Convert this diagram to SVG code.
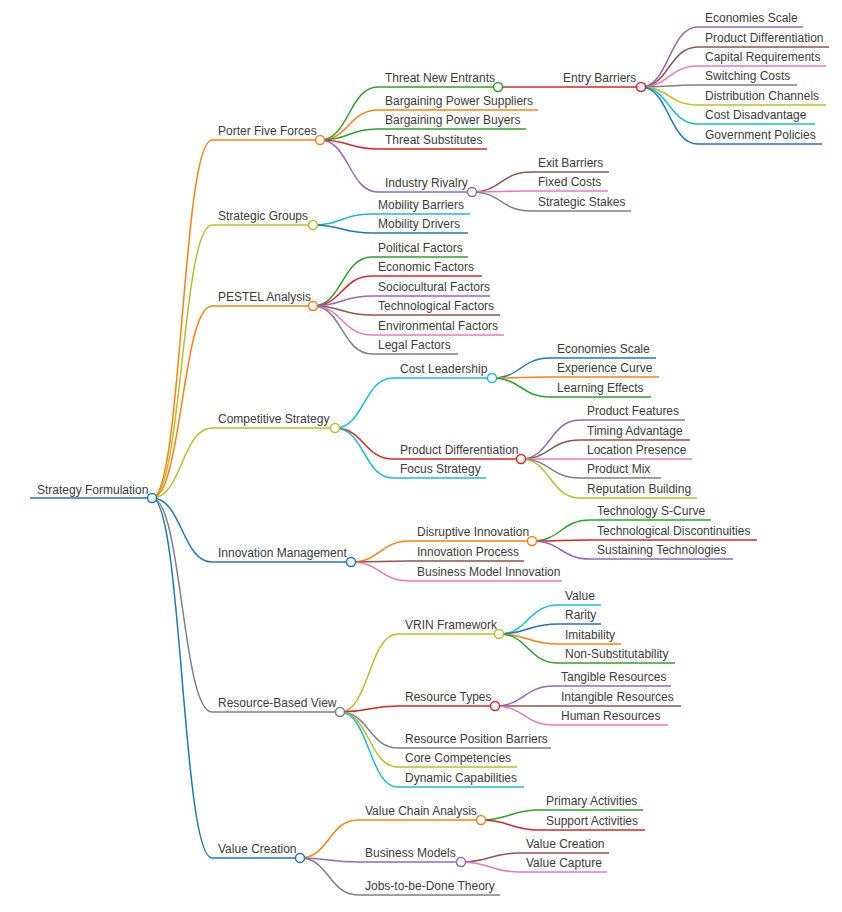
<svg xmlns="http://www.w3.org/2000/svg" width="842" height="912" viewBox="0 0 842 912">
<style>
text{font-family:"Liberation Sans",Arial,sans-serif;font-size:12px;fill:#3a3a3a}
.l{fill:none;stroke-width:1.5}
.k{fill:none;stroke-width:1.5}
circle{fill:#fff;stroke-width:1.5}
.b{stroke:#1f77b4}.o{stroke:#ff7f0e}.g{stroke:#2ca02c}.r{stroke:#d62728}.p{stroke:#9467bd}.n{stroke:#8c564b}.i{stroke:#e377c2}.y{stroke:#7f7f7f}.v{stroke:#bcbd22}.c{stroke:#17becf}
</style>
<rect width="842" height="912" fill="#fff"/>
<g id="connectors">
<path class="k o" d="M152 498C182 498 182 140 212 140"/>
<path class="k v" d="M152 498C182 498 182 225 212 225"/>
<path class="k o" d="M152 498C182 498 182 306 212 306"/>
<path class="k v" d="M152 498C182 498 182 428 212 428"/>
<path class="k b" d="M152 498C182 498 182 562 212 562"/>
<path class="k y" d="M152 498C182 498 182 712 212 712"/>
<path class="k b" d="M152 498C182 498 182 858 212 858"/>
<path class="k g" d="M320 140C349 140 349 87 378 87"/>
<path class="k o" d="M320 140C349 140 349 110 378 110"/>
<path class="k g" d="M320 140C349 140 349 129 378 129"/>
<path class="k r" d="M320 140C349 140 349 149 378 149"/>
<path class="k p" d="M320 140C349 140 349 192 378 192"/>
<path class="k r" d="M498 87H556"/>
<path class="k p" d="M641 87C669 87 669 27 698 27"/>
<path class="k n" d="M641 87C669 87 669 47 698 47"/>
<path class="k i" d="M641 87C669 87 669 66 698 66"/>
<path class="k y" d="M641 87C669 87 669 85 698 85"/>
<path class="k v" d="M641 87C669 87 669 105 698 105"/>
<path class="k c" d="M641 87C669 87 669 124 698 124"/>
<path class="k b" d="M641 87C669 87 669 144 698 144"/>
<path class="k n" d="M472 192C501 192 501 172 531 172"/>
<path class="k i" d="M472 192C501 192 501 191 531 191"/>
<path class="k y" d="M472 192C501 192 501 211 531 211"/>
<path class="k c" d="M313 225C342 225 342 214 372 214"/>
<path class="k b" d="M313 225C342 225 342 233 372 233"/>
<path class="k g" d="M313 306C342 306 342 257 372 257"/>
<path class="k r" d="M313 306C342 306 342 276 372 276"/>
<path class="k p" d="M313 306C342 306 342 296 372 296"/>
<path class="k n" d="M313 306C342 306 342 315 372 315"/>
<path class="k i" d="M313 306C342 306 342 335 372 335"/>
<path class="k y" d="M313 306C342 306 342 354 372 354"/>
<path class="k c" d="M335 428C364 428 364 378 393 378"/>
<path class="k r" d="M335 428C364 428 364 459 393 459"/>
<path class="k c" d="M335 428C364 428 364 478 393 478"/>
<path class="k b" d="M492 378C521 378 521 358 550 358"/>
<path class="k o" d="M492 378C521 378 521 377 550 377"/>
<path class="k g" d="M492 378C521 378 521 397 550 397"/>
<path class="k p" d="M521 459C550 459 550 420 580 420"/>
<path class="k n" d="M521 459C550 459 550 440 580 440"/>
<path class="k i" d="M521 459C550 459 550 459 580 459"/>
<path class="k y" d="M521 459C550 459 550 478 580 478"/>
<path class="k v" d="M521 459C550 459 550 498 580 498"/>
<path class="k o" d="M351 562C380 562 380 541 410 541"/>
<path class="k n" d="M351 562C380 562 380 561 410 561"/>
<path class="k i" d="M351 562C380 562 380 581 410 581"/>
<path class="k g" d="M532 541C561 541 561 520 590 520"/>
<path class="k r" d="M532 541C561 541 561 540 590 540"/>
<path class="k p" d="M532 541C561 541 561 559 590 559"/>
<path class="k v" d="M340 712C369 712 369 634 398 634"/>
<path class="k r" d="M340 712C369 712 369 706 398 706"/>
<path class="k y" d="M340 712C369 712 369 748 398 748"/>
<path class="k v" d="M340 712C369 712 369 767 398 767"/>
<path class="k c" d="M340 712C369 712 369 787 398 787"/>
<path class="k c" d="M499 634C528 634 528 605 558 605"/>
<path class="k b" d="M499 634C528 634 528 624 558 624"/>
<path class="k o" d="M499 634C528 634 528 644 558 644"/>
<path class="k g" d="M499 634C528 634 528 663 558 663"/>
<path class="k p" d="M495 706C524 706 524 686 554 686"/>
<path class="k n" d="M495 706C524 706 524 706 554 706"/>
<path class="k i" d="M495 706C524 706 524 725 554 725"/>
<path class="k o" d="M300 858C329 858 329 820 358 820"/>
<path class="k p" d="M300 858C329 858 329 862 358 862"/>
<path class="k y" d="M300 858C329 858 329 895 358 895"/>
<path class="k g" d="M481 820C510 820 510 810 539 810"/>
<path class="k r" d="M481 820C510 820 510 830 539 830"/>
<path class="k n" d="M461 862C490 862 490 853 519 853"/>
<path class="k i" d="M461 862C490 862 490 872 519 872"/>
</g>
<g id="root"><path class="l b" stroke-width="2" d="M30 498H152"/><text x="37" y="494">Strategy Formulation</text><circle class="b" cx="152" cy="498" r="4.5"/></g>
<g id="porter"><path class="l o" d="M212 140H320"/><text x="218" y="135">Porter Five Forces</text><circle class="o" cx="320" cy="140" r="4.5"/></g>
<g id="tne"><path class="l g" d="M378 87H498"/><text x="385" y="82">Threat New Entrants</text><circle class="g" cx="498" cy="87" r="4.5"/></g>
<g id="bps"><path class="l o" d="M378 110H538"/><text x="385" y="105">Bargaining Power Suppliers</text></g>
<g id="bpb"><path class="l g" d="M378 129H526"/><text x="385" y="124">Bargaining Power Buyers</text></g>
<g id="ts"><path class="l r" d="M378 149H487"/><text x="385" y="144">Threat Substitutes</text></g>
<g id="ir"><path class="l p" d="M378 192H472"/><text x="385" y="187">Industry Rivalry</text><circle class="p" cx="472" cy="192" r="4.5"/></g>
<g id="eb"><path class="l r" d="M556 87H641"/><text x="563" y="82">Entry Barriers</text><circle class="r" cx="641" cy="87" r="4.5"/></g>
<g id="eb1"><path class="l p" d="M698 27H803"/><text x="705" y="22">Economies Scale</text></g>
<g id="eb2"><path class="l n" d="M698 47H829"/><text x="705" y="42">Product Differentiation</text></g>
<g id="eb3"><path class="l i" d="M698 66H826"/><text x="705" y="61">Capital Requirements</text></g>
<g id="eb4"><path class="l y" d="M698 85H797"/><text x="705" y="80">Switching Costs</text></g>
<g id="eb5"><path class="l v" d="M698 105H826"/><text x="705" y="100">Distribution Channels</text></g>
<g id="eb6"><path class="l c" d="M698 124H815"/><text x="705" y="119">Cost Disadvantage</text></g>
<g id="eb7"><path class="l b" d="M698 144H822"/><text x="705" y="139">Government Policies</text></g>
<g id="ir1"><path class="l n" d="M531 172H609"/><text x="538" y="167">Exit Barriers</text></g>
<g id="ir2"><path class="l i" d="M531 191H608"/><text x="538" y="186">Fixed Costs</text></g>
<g id="ir3"><path class="l y" d="M531 211H631"/><text x="538" y="206">Strategic Stakes</text></g>
<g id="sg"><path class="l v" d="M212 225H313"/><text x="218" y="220">Strategic Groups</text><circle class="v" cx="313" cy="225" r="4.5"/></g>
<g id="sg1"><path class="l c" d="M372 214H470"/><text x="378" y="209">Mobility Barriers</text></g>
<g id="sg2"><path class="l b" d="M372 233H468"/><text x="378" y="228">Mobility Drivers</text></g>
<g id="pestel"><path class="l o" d="M212 306H313"/><text x="218" y="301">PESTEL Analysis</text><circle class="o" cx="313" cy="306" r="4.5"/></g>
<g id="pe1"><path class="l g" d="M372 257H468"/><text x="378" y="252">Political Factors</text></g>
<g id="pe2"><path class="l r" d="M372 276H482"/><text x="378" y="271">Economic Factors</text></g>
<g id="pe3"><path class="l p" d="M372 296H490"/><text x="378" y="291">Sociocultural Factors</text></g>
<g id="pe4"><path class="l n" d="M372 315H500"/><text x="378" y="310">Technological Factors</text></g>
<g id="pe5"><path class="l i" d="M372 335H504"/><text x="378" y="330">Environmental Factors</text></g>
<g id="pe6"><path class="l y" d="M372 354H458"/><text x="378" y="349">Legal Factors</text></g>
<g id="cs"><path class="l v" d="M212 428H335"/><text x="218" y="423">Competitive Strategy</text><circle class="v" cx="335" cy="428" r="4.5"/></g>
<g id="cl"><path class="l c" d="M393 378H492"/><text x="400" y="373">Cost Leadership</text><circle class="c" cx="492" cy="378" r="4.5"/></g>
<g id="cl1"><path class="l b" d="M550 358H656"/><text x="557" y="353">Economies Scale</text></g>
<g id="cl2"><path class="l o" d="M550 377H659"/><text x="557" y="372">Experience Curve</text></g>
<g id="cl3"><path class="l g" d="M550 397H651"/><text x="557" y="392">Learning Effects</text></g>
<g id="pd"><path class="l r" d="M393 459H521"/><text x="400" y="454">Product Differentiation</text><circle class="r" cx="521" cy="459" r="4.5"/></g>
<g id="pd1"><path class="l p" d="M580 420H685"/><text x="587" y="415">Product Features</text></g>
<g id="pd2"><path class="l n" d="M580 440H690"/><text x="587" y="435">Timing Advantage</text></g>
<g id="pd3"><path class="l i" d="M580 459H692"/><text x="587" y="454">Location Presence</text></g>
<g id="pd4"><path class="l y" d="M580 478H661"/><text x="587" y="473">Product Mix</text></g>
<g id="pd5"><path class="l v" d="M580 498H697"/><text x="587" y="493">Reputation Building</text></g>
<g id="fs"><path class="l c" d="M393 478H486"/><text x="400" y="473">Focus Strategy</text></g>
<g id="im"><path class="l b" d="M212 562H351"/><text x="218" y="557">Innovation Management</text><circle class="b" cx="351" cy="562" r="4.5"/></g>
<g id="di"><path class="l o" d="M410 541H532"/><text x="417" y="536">Disruptive Innovation</text><circle class="o" cx="532" cy="541" r="4.5"/></g>
<g id="di1"><path class="l g" d="M590 520H711"/><text x="597" y="515">Technology S-Curve</text></g>
<g id="di2"><path class="l r" d="M590 540H757"/><text x="597" y="535">Technological Discontinuities</text></g>
<g id="di3"><path class="l p" d="M590 559H733"/><text x="597" y="554">Sustaining Technologies</text></g>
<g id="ip"><path class="l n" d="M410 561H524"/><text x="417" y="556">Innovation Process</text></g>
<g id="bmi"><path class="l i" d="M410 581H562"/><text x="417" y="576">Business Model Innovation</text></g>
<g id="rbv"><path class="l y" d="M212 712H340"/><text x="218" y="707">Resource-Based View</text><circle class="y" cx="340" cy="712" r="4.5"/></g>
<g id="vrin"><path class="l v" d="M398 634H499"/><text x="405" y="629">VRIN Framework</text><circle class="v" cx="499" cy="634" r="4.5"/></g>
<g id="vr1"><path class="l c" d="M558 605H601"/><text x="565" y="600">Value</text></g>
<g id="vr2"><path class="l b" d="M558 624H601"/><text x="565" y="619">Rarity</text></g>
<g id="vr3"><path class="l o" d="M558 644H621"/><text x="565" y="639">Imitability</text></g>
<g id="vr4"><path class="l g" d="M558 663H675"/><text x="565" y="658">Non-Substitutability</text></g>
<g id="rt"><path class="l r" d="M398 706H495"/><text x="405" y="701">Resource Types</text><circle class="r" cx="495" cy="706" r="4.5"/></g>
<g id="rt1"><path class="l p" d="M554 686H671"/><text x="561" y="681">Tangible Resources</text></g>
<g id="rt2"><path class="l n" d="M554 706H681"/><text x="561" y="701">Intangible Resources</text></g>
<g id="rt3"><path class="l i" d="M554 725H668"/><text x="561" y="720">Human Resources</text></g>
<g id="rpb"><path class="l y" d="M398 748H551"/><text x="405" y="743">Resource Position Barriers</text></g>
<g id="cc"><path class="l v" d="M398 767H517"/><text x="405" y="762">Core Competencies</text></g>
<g id="dc"><path class="l c" d="M398 787H524"/><text x="405" y="782">Dynamic Capabilities</text></g>
<g id="vc"><path class="l b" d="M212 858H300"/><text x="218" y="853">Value Creation</text><circle class="b" cx="300" cy="858" r="4.5"/></g>
<g id="vca"><path class="l o" d="M358 820H481"/><text x="365" y="815">Value Chain Analysis</text><circle class="o" cx="481" cy="820" r="4.5"/></g>
<g id="vca1"><path class="l g" d="M539 810H643"/><text x="546" y="805">Primary Activities</text></g>
<g id="vca2"><path class="l r" d="M539 830H645"/><text x="546" y="825">Support Activities</text></g>
<g id="bm"><path class="l p" d="M358 862H461"/><text x="365" y="857">Business Models</text><circle class="p" cx="461" cy="862" r="4.5"/></g>
<g id="bm1"><path class="l n" d="M519 853H609"/><text x="526" y="848">Value Creation</text></g>
<g id="bm2"><path class="l i" d="M519 872H607"/><text x="526" y="867">Value Capture</text></g>
<g id="jtbd"><path class="l y" d="M358 895H500"/><text x="365" y="890">Jobs-to-be-Done Theory</text></g>
</svg>
